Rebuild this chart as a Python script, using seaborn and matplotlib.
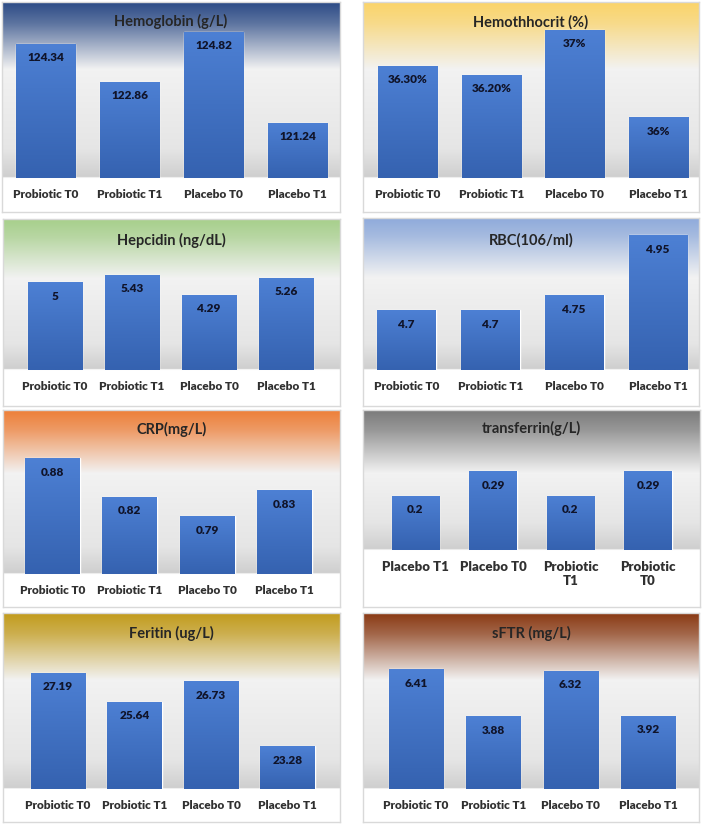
import numpy as np
import pandas as pd
import matplotlib
matplotlib.use('Agg')
import matplotlib.pyplot as plt
import matplotlib.colors as mcolors
import seaborn as sns

# ---- data ----
groups = ['Probiotic T0', 'Probiotic T1', 'Placebo T0', 'Placebo T1']
groups_transferrin = ['Placebo T1', 'Placebo T0', 'Probiotic\nT1', 'Probiotic\nT0']

hemoglobin = [124.34, 122.86, 124.82, 121.24]
hematocrit = [36.30, 36.20, 36.70, 35.73]
hematocrit_labels = ['36.30%', '36.20%', '37%', '36%']
hepcidin = [5, 5.43, 4.29, 5.26]
rbc = [4.7, 4.7, 4.75, 4.95]
crp = [0.88, 0.82, 0.79, 0.83]
transferrin = [0.2, 0.29, 0.2, 0.29]
feritin = [27.19, 25.64, 26.73, 23.28]
sftr = [6.41, 3.88, 6.32, 3.92]

sns.set_theme(style='white')
plt.rcParams['font.family'] = ['Lato', 'DejaVu Sans']

W, H = 702, 825
fig = plt.figure(figsize=(W / 100, H / 100), dpi=100)
fig.patch.set_facecolor('white')


def rect(x0, y0, x1, y1):
    # pixel box (top-left origin) -> figure fraction
    return [x0 / W, 1 - y1 / H, (x1 - x0) / W, (y1 - y0) / H]


def blend(c1, c2, n):
    a = np.array(mcolors.to_rgb(c1))
    b = np.array(mcolors.to_rgb(c2))
    t = np.linspace(0, 1, n)[:, None]
    return a * (1 - t) + b * t


# title, categories, values, labels, header colour, panel box, bar area (xl, xr, ybottom), ylim, tick size, bar width
panels = [
    ('Hemoglobin (g/L)', groups, hemoglobin, None, '#2c4b86',
     (2, 2, 340, 212), (3.5, 339.5, 178), (119.08, 125.98), 8.5, 0.71),
    ('Hemothhocrit (%)', groups, hematocrit, hematocrit_labels, '#fbd469',
     (363, 2, 699, 212), (366, 700, 178), (35.056, 37.01), 8.5, 0.71),
    ('Hepcidin (ng/dL)', groups, hepcidin, None, '#a6cf8a',
     (3, 219, 340, 406), (16.5, 324.5, 370), (0, 8.59), 8.5, 0.71),
    ('RBC(106/ml)', groups, rbc, None, '#8eaadb',
     (363, 218, 699, 406), (364.5, 700, 370), (4.5, 5.007), 8.5, 0.70),
    ('CRP(mg/L)', groups, crp, None, '#ee7f38',
     (3, 410, 340, 607), (13.8, 323.2, 574), (0.70, 0.9547), 8.5, 0.71),
    ('transferrin(g/L)', groups_transferrin, transferrin, None, '#7b7b7b',
     (363, 410, 700, 607), (376.7, 686.7, 550), (0, 0.515), 9.5, 0.61),
    ('Feritin (ug/L)', groups, feritin, None, '#c29b1c',
     (3, 613, 340, 822), (19.7, 325.7, 789), (21, 30.38), 8.5, 0.71),
    ('sFTR (mg/L)', groups, sftr, None, '#8a3a14',
     (363, 613, 699, 822), (377.3, 686.7, 789), (0, 9.41), 8.5, 0.70),
]

title_y = [21, 22, 240, 240, 429, 428, 633, 633]

bar_grad = blend('#4d80d4', '#3562b0', 64)[:, None, :]

for (title, cats, vals, labels, hcol, box, bars, ylim, tsize, bw), ty in zip(panels, title_y):
    x0, y0, x1, y1 = box
    xl, xr, yb = bars
    ph = y1 - y0
    bt = (yb - y0) / ph

    # panel background: coloured header fading to grey, shadow band, white floor
    bg = fig.add_axes(rect(x0, y0, x1, y1))
    n = 400
    t = np.linspace(0, 1, n)
    hc = np.array(mcolors.to_rgb(hcol))
    stops = [0, 0.10, 0.32, bt - 0.14, bt - 0.005, bt, 1]
    cols = np.array([hc,
                     0.75 * hc + 0.25 * np.array([0.93, 0.93, 0.93]),
                     (0.95, 0.95, 0.95), (0.90, 0.90, 0.90), (0.81, 0.81, 0.81),
                     (1, 1, 1), (1, 1, 1)])
    img = np.stack([np.interp(t, stops, cols[:, k]) for k in range(3)], axis=1)[:, None, :]
    bg.imshow(img, extent=[0, 1, 0, 1], aspect='auto', origin='upper')
    bg.set_xlim(0, 1)
    bg.set_ylim(0, 1)
    bg.set_xticks([])
    bg.set_yticks([])
    for s in bg.spines.values():
        s.set_color('#d9d9d9')
        s.set_linewidth(1)
    bg.text(0.5, 1 - (ty - y0) / ph, title, ha='center', va='center',
            fontsize=10.5, fontweight='bold', color='#262626')

    # bars
    ax = fig.add_axes(rect(xl, y0, xr, yb))
    ax.set_facecolor('none')
    df = pd.DataFrame({'group': cats, 'value': vals})
    sns.barplot(data=df, x='group', y='value', color='#4472c4', width=bw,
                saturation=1, ax=ax, errorbar=None)
    for p in ax.patches:
        px, pw, ph_ = p.get_x(), p.get_width(), p.get_height()
        im = ax.imshow(bar_grad, extent=[px, px + pw, ylim[0], ph_],
                       aspect='auto', origin='upper', zorder=3)
        im.set_clip_path(p)
    if labels is None:
        labels = [f'{v:g}' for v in vals]
    for i, (v, lab) in enumerate(zip(vals, labels)):
        ax.annotate(lab, (i, v), xytext=(0, -14), textcoords='offset pixels',
                    ha='center', va='center', fontsize=8.5, fontweight='heavy',
                    color='#10142a', zorder=5)
    ax.set_xlim(-0.5, len(cats) - 0.5)
    ax.set_ylim(*ylim)
    ax.set_xlabel('')
    ax.set_ylabel('')
    ax.set_yticks([])
    ax.tick_params(axis='x', length=0, pad=8, labelsize=tsize, labelcolor='#303030')
    for lab in ax.get_xticklabels():
        lab.set_fontweight('heavy')
    sns.despine(ax=ax, left=True, bottom=True)

fig.savefig('out.png', dpi=100, facecolor='white')
